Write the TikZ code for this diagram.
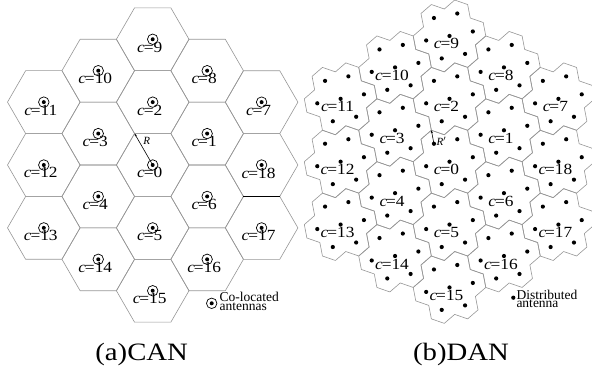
\documentclass[tikz,border=0pt]{standalone}
\usepackage{fontspec}
\setmainfont{Liberation Serif}
\usetikzlibrary{arrows.meta}
\definecolor{edgegray}{RGB}{150,150,150}

\begin{document}
\begin{tikzpicture}[x=1pt,y=1pt,
  cell/.style={draw=edgegray, line width=0.6pt, line join=round},
  cellname/.style={font=\fontsize{15.5}{15.5}\selectfont, inner sep=0pt, anchor=base},
  legendtext/.style={font=\fontsize{13.5}{8.7}\selectfont, inner sep=0pt, anchor=base west, align=left},
  caption/.style={font=\fontsize{25}{25}\selectfont, inner sep=0pt, anchor=base},
  radius arrow/.style={line width=0.6pt, -{Stealth[length=3pt,width=2.2pt]}},
  colocated/.style={circle, draw, line width=0.7pt, minimum size=10.5pt, inner sep=0pt}]
\useasboundingbox (0,0) rectangle (592,370);

% cell radius R, small-cell spacing d, small-cell radius r
\def\R{36.3}
\def\dd{23.76}
\def\rr{13.72}
\def\rw{27.44}
% cell label: italic c, equals sign, index
\newcommand\cellid[1]{\scalebox{1.12}[1]{\textit{c}\kern-1pt=#1}}

% axial positions of the 19 cells / clusters
\def\cells{0/0/0, 1/1/0, 2/0/1, 3/-1/1, 4/-1/0, 5/0/-1, 6/1/-1,
  7/2/0, 8/1/1, 9/0/2, 10/-1/2, 11/-2/2, 12/-2/1, 13/-2/0,
  14/-1/-1, 15/0/-2, 16/1/-2, 17/2/-2, 18/2/-1}

% ---------- (a) co-located antennas ----------
\foreach \n/\a/\b in \cells {
  \coordinate (L\n) at ({152.7+\a*54.45},{205+\a*31.43+\b*62.87});
  \draw[cell] (L\n) ++(0:\R) -- ++(120:\R) -- ++(180:\R) -- ++(240:\R)
    -- ++(300:\R) -- ++(0:\R) -- cycle;
}
% one boundary drawn in black
\draw[line width=0.7pt] ([shift={(240:\R)}]L18) coordinate (e1) -- ([shift={(300:\R)}]L18) coordinate (e2);

\foreach \n/\a/\b in \cells {
  \node[colocated] (aL\n) at (L\n) {};
  \fill (L\n) circle (2pt);
  \node[cellname] (tL\n) at ([shift={(-3,-13)}]L\n) {\cellid{\n}};
}
\coordinate (vR) at ([shift={(120:\R)}]L0);
\draw[radius arrow] (L0) -- (vR);
\node[font=\fontsize{11}{11}\selectfont\itshape, inner sep=0pt] (lR) at (146.7,228.8) {R};

% legend (anchored at the baseline of its last line)
\node[colocated] (legA) at (211.7,66.7) {};
\fill (legA.center) circle (2pt);
\node[legendtext] (legAt) at (219.5,60) {Co-located\\antennas};

\node[caption] (capA) at (141.7,9.3) {\scalebox{1.15}[1]{(a)CAN}};

% ---------- (b) distributed antennas ----------
\foreach \n/\a/\b in \cells {
  \coordinate (D\n) at ({449.5+\a*54.45},{208.3+\a*31.43+\b*62.87});
  \draw[cell] ([shift={(0:\R)}]D\n)
    \foreach \k in {0,...,5} {
      -- ([shift={(60*\k+21.78:\R)}]D\n)
      -- ([shift={(60*\k+40.89:\rw)}]D\n)
      -- ([shift={(60*\k+60:\R)}]D\n)
    } -- cycle;
}
\foreach \n/\a/\b in \cells {
  \fill (D\n) circle (2.1pt);
  \foreach \k in {0,...,5}
    \fill ([shift={(60*\k+10.89:\dd)}]D\n) circle (2.1pt);
  \node[cellname] (tD\n) at ([shift={(-3,-13)}]D\n) {\cellid{\n}};
}
\coordinate (sc) at ([shift={(130.89:\dd)}]D0);
\coordinate (vS) at ([shift={(100.89:\rr)}]sc);
\draw[radius arrow] (sc) -- (vS);
\node[font=\fontsize{11}{11}\selectfont\itshape, inner sep=0pt, anchor=west] (lRp) at (436.5,228.5) {R$'$};

% legend
\fill (513.3,72.3) coordinate (legB) circle (2.1pt);
\node[legendtext] (legBt) at (516.3,62.3) {Distributed\\antenna};

\node[caption] (capB) at (461,9.3) {\scalebox{1.15}[1]{(b)DAN}};
\end{tikzpicture}
\end{document}
